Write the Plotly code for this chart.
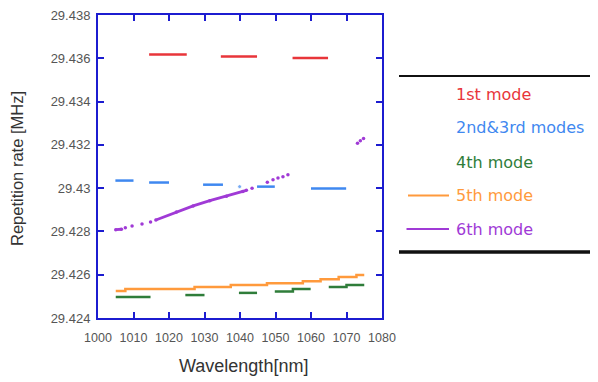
import plotly.graph_objects as go

# ---- data ----
mode1_x = [1014.4, 1025.0, None, 1034.6, 1044.8, None, 1054.8, 1064.8]
mode1_y = [29.43617, 29.43617, None, 29.43608, 29.43608, None, 29.43601, 29.43601]

mode23_x = [1004.9, 1010.0, None, 1014.4, 1020.0, None, 1029.6, 1035.2, None, 1039.9, None,
            1044.8, 1049.8, None, 1060.0, 1069.9]
mode23_y = [29.43035, 29.43035, None, 29.43026, 29.43026, None, 29.43016, 29.43016, None, 29.43007, None,
            29.43007, 29.43007, None, 29.42998, 29.42998]

mode4_x = [1005.0, 1014.8, None, 1024.6, 1030.0, None, 1039.7, 1044.8, None, 1049.8, 1054.9, 1059.9,
           None, 1065.0, 1070.0, 1075.0]
mode4_y = [29.42497, 29.42497, None, 29.42506, 29.42506, None, 29.42516, 29.42516, None, 29.42523,
           29.42534, 29.42534, None, 29.42543, 29.42552, 29.42552]

mode5_x = [1005.0, 1007.7, 1027.2, 1037.4, 1047.6, 1057.7, 1062.7, 1067.8, 1072.8, 1075.0]
mode5_y = [29.42525, 29.42534, 29.42543, 29.42552, 29.42561, 29.42570, 29.42579, 29.42589, 29.42599, 29.42599]

mode6_x = [1005.0, 1006.6, None, 1007.7, None, 1009.6, None, 1012.4, None, 1014.8, None,
           1016.3, 1022.1, 1026.8, 1031.5, 1036.2, 1040.8, 1041.8, None, 1043.4, None,
           1047.7, None, 1049.3, None, 1050.7, None, 1052.1, None, 1053.5, None,
           1073.1, None, 1073.9, None, 1074.8]
mode6_y = [29.42808, 29.42810, None, 29.42817, None, 29.42825, None, 29.42834, None, 29.42844, None,
           29.42853, 29.42890, 29.42918, 29.42942, 29.42963, 29.42984, 29.42990, None, 29.42999, None,
           29.43027, None, 29.43039, None, 29.43047, None, 29.43053, None, 29.43062, None,
           29.43208, None, 29.43219, None, 29.43229]

x_ticks = [1000, 1010, 1020, 1030, 1040, 1050, 1060, 1070, 1080]
x_ticktext = ["1000", "1010", "1020", "1030", "1040", "1050", "1060", "1070", "1080"]
y_ticks = [29.424, 29.426, 29.428, 29.430, 29.432, 29.434, 29.436, 29.438]
y_ticktext = ["29.424", "29.426", "29.428", "29.43", "29.432", "29.434", "29.436", "29.438"]

legend_names = ["1st mode", "2nd&3rd modes", "4th mode", "5th mode", "6th mode"]

# ---- style ----
RED = "#e8353a"
BLUE = "#3f88f0"
GREEN = "#2f7d3a"
ORANGE = "#ff9a3c"
PURPLE = "#a03ad6"
AXIS = "#1c1cd0"
TICKFONT = "#555555"

OFF = 8  # page body margin
W, H = 598 - OFF, 382 - OFF
L, T = 98 - OFF, 15 - OFF
R = W - (382 - OFF)
B = H - (318 - OFF)
PW, PH = W - L - R, H - T - B


def px(x):
    return (x - OFF - L) / PW


def py(y):
    return (H - B - (y - OFF)) / PH


fig = go.Figure()
fig.add_trace(go.Scatter(x=mode1_x, y=mode1_y, mode="lines", line=dict(color=RED, width=2.5),
                         connectgaps=False, name=legend_names[0]))
sizes23 = [0 if v is None else (4 if (0 < i < len(mode23_x) - 1 and mode23_x[i - 1] is None
                                      and mode23_x[i + 1] is None) else 0)
           for i, v in enumerate(mode23_x)]
fig.add_trace(go.Scatter(x=mode23_x, y=mode23_y, mode="lines+markers", line=dict(color=BLUE, width=2.5),
                         marker=dict(size=sizes23, color=BLUE), connectgaps=False, name=legend_names[1]))
fig.add_trace(go.Scatter(x=mode4_x, y=mode4_y, mode="lines", line=dict(color=GREEN, width=2.5, shape="hv"),
                         connectgaps=False, name=legend_names[2]))
fig.add_trace(go.Scatter(x=mode5_x, y=mode5_y, mode="lines", line=dict(color=ORANGE, width=2.5, shape="hv"),
                         name=legend_names[3]))
fig.add_trace(go.Scatter(x=mode6_x, y=mode6_y, mode="lines+markers", line=dict(color=PURPLE, width=2.8),
                         marker=dict(size=3.5, color=PURPLE), connectgaps=False, name=legend_names[4]))

axis_common = dict(showline=True, linecolor=AXIS, linewidth=2, mirror="ticks", ticks="inside",
                   ticklen=6, tickwidth=2, tickcolor=AXIS, showgrid=False, zeroline=False,
                   automargin=False, ticklabeloverflow="allow")

fig.update_xaxes(range=[1000, 1080], tickvals=x_ticks, ticktext=x_ticktext, ticklabelstandoff=7,
                 tickfont=dict(family="Liberation Sans, Arial", size=12.5, color=TICKFONT), **axis_common)
fig.update_yaxes(range=[29.424, 29.438], tickvals=y_ticks, ticktext=y_ticktext, ticklabelstandoff=3,
                 tickfont=dict(family="Liberation Sans, Arial", size=13, color=TICKFONT), **axis_common)

annotations = [
    dict(text="Wavelength[nm]", x=px(243), y=py(366), xref="paper", yref="paper", showarrow=False,
         xanchor="center", yanchor="middle",
         font=dict(family="Liberation Sans, Arial", size=18, color="#333333")),
    dict(text="Repetition rate [MHz]", x=px(17), y=py(169), xref="paper", yref="paper", showarrow=False,
         textangle=-90, xanchor="center", yanchor="middle",
         font=dict(family="Liberation Sans, Arial", size=16.5, color="#333333")),
]
legend_colors = [RED, BLUE, GREEN, ORANGE, PURPLE]
legend_y = [94.5, 128, 162, 195.5, 229]
for name, c, yy in zip(legend_names, legend_colors, legend_y):
    annotations.append(dict(text=name, x=px(454), y=py(yy), xref="paper", yref="paper", showarrow=False,
                            xanchor="left", yanchor="middle",
                            font=dict(family="DejaVu Sans, Verdana", size=16, color=c)))

shapes = [
    dict(type="line", xref="paper", yref="paper", x0=px(399), x1=px(600), y0=py(76), y1=py(76),
         line=dict(color="#111111", width=2)),
    dict(type="line", xref="paper", yref="paper", x0=px(399), x1=px(600), y0=py(252), y1=py(252),
         line=dict(color="#111111", width=3.5)),
    dict(type="line", xref="paper", yref="paper", x0=px(408), x1=px(449), y0=py(195.5), y1=py(195.5),
         line=dict(color=ORANGE, width=1.8)),
    dict(type="line", xref="paper", yref="paper", x0=px(406.5), x1=px(449), y0=py(229), y1=py(229),
         line=dict(color=PURPLE, width=1.8)),
]

fig.update_layout(width=W, height=H, margin=dict(l=L, r=R, t=T, b=B, autoexpand=False),
                  paper_bgcolor="white", plot_bgcolor="white", showlegend=False,
                  annotations=annotations, shapes=shapes)

fig.write_html("out.html")
